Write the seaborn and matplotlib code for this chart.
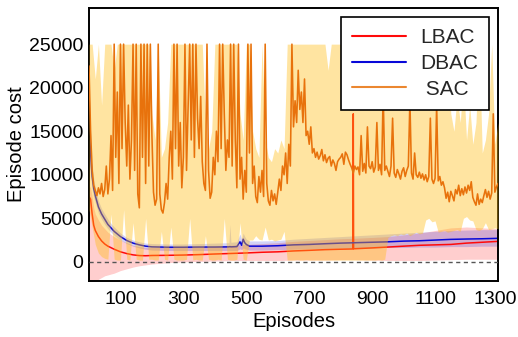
import numpy as np
import matplotlib
matplotlib.use("Agg")
import matplotlib.pyplot as plt
import matplotlib.transforms as mtransforms
import seaborn as sns

sns.set_theme(style="white")
plt.rcParams["font.family"] = ["Liberation Sans", "DejaVu Sans"]

# ---------------- data ----------------
sac_ep = np.arange(0, 1301, 5)
sac_cost = [
    22500, 15000, 10500, 8800, 8200, 7600, 8500, 7800, 9000, 7500,
    8300, 11000, 7800, 9500, 14500, 8200, 25000, 12000, 19500, 9000,
    25000, 13000, 25000, 16000, 11000, 18000, 9500, 14000, 25000, 10500,
    25000, 7800, 6200, 25000, 12000, 25000, 9000, 25000, 11000, 25000,
    14500, 8000, 6500, 7200, 25000, 7800, 6000, 5600, 6800, 9000,
    7200, 12000, 15000, 9500, 25000, 13000, 25000, 11000, 16000, 8500,
    12000, 25000, 10500, 18000, 25000, 14000, 25000, 12000, 25000, 16500,
    13000, 19000, 11500, 9000, 8200, 25000, 10500, 7300, 8000, 12000,
    10000, 15000, 11500, 25000, 13000, 25000, 17000, 10500, 14000, 12000,
    25000, 11000, 25000, 14000, 8500, 25000, 9500, 12000, 7200, 10500,
    8000, 25000, 12500, 25000, 9000, 11000, 7500, 6800, 9800, 8000,
    10500, 7500, 25000, 9000, 7000, 6500, 8200, 7000, 7800, 6600,
    8000, 9500, 8200, 11000, 10000, 12500, 9000, 13500, 11000, 25000,
    15500, 18500, 16000, 22000, 17500, 19500, 16000, 21000, 14500, 15000,
    13500, 15500, 12500, 13000, 12000, 12600, 11800, 12200, 12900, 11600,
    12300, 11400, 11900, 12100, 11000, 11700, 11300, 10500, 11500, 11800,
    12000, 12400, 11200, 12600, 12300, 11700, 11200, 10800, 10200, 11000,
    10600, 10900, 10000, 14500, 10400, 11300, 10200, 15500, 11000, 10700,
    11500, 10300, 10900, 16000, 10500, 11200, 10000, 19500, 10500, 11000,
    10400, 9800, 11000, 16500, 10200, 9700, 10600, 10100, 9500, 10400,
    10800, 9800, 10500, 11000, 18500, 10200, 9500, 12500, 10000, 9700,
    10300, 9600, 10100, 9400, 10000, 9200, 9800, 16500, 9500, 9000,
    9600, 18000, 9300, 9800, 8800, 9200, 8500, 7300, 8000, 6900,
    8100, 7600, 7000, 8300, 7800, 8800, 7600, 8400, 7700, 8600,
    7900, 8800, 8200, 9200, 7400, 6900, 6500, 7800, 6600, 7200,
    6800, 7600, 8300, 7400, 8100, 7200, 7900, 17000, 8000, 8600,
    9000,
]

band_ep = np.arange(0, 1301, 10)
sac_hi = [
    25000, 25000, 21000, 25000, 18000, 25000, 25000, 25000, 22000, 25000,
    25000, 25000, 25000, 25000, 25000, 25000, 25000, 25000, 25000, 25000,
    17000, 14000, 25000, 12000, 13000, 16000, 25000, 25000, 25000, 25000,
    25000, 25000, 25000, 25000, 25000, 25000, 25000, 16000, 13000, 15000,
    25000, 25000, 25000, 25000, 25000, 25000, 25000, 25000, 17000, 14000,
    25000, 25000, 15000, 13000, 12000, 25000, 14000, 12000, 11500, 13000,
    12500, 14000, 13000, 25000, 25000, 25000, 25000, 25000, 25000, 25000,
    25000, 25000, 25000, 25000, 25000, 25000, 22000, 25000, 25000, 25000,
    25000, 25000, 25000, 25000, 25000, 25000, 25000, 25000, 25000, 25000,
    25000, 25000, 25000, 25000, 25000, 25000, 25000, 25000, 25000, 25000,
    25000, 25000, 25000, 22000, 25000, 23000, 25000, 21000, 25000, 24000,
    25000, 25000, 20000, 22000, 25000, 17000, 15000, 19000, 16000, 21000,
    14000, 18000, 13500, 16000, 25000, 12500, 14000, 17000, 25000, 13500,
    16000,
]
sac_lo = [
    6000, 4000, 2000, 1000, 600, 400, 300, 5500, 300, 200,
    200, 6000, 300, 200, 4500, 300, 200, 200, 5000, 300,
    300, 200, 200, 3500, 300, 200, 4000, 300, 200, 200,
    200, 300, 5000, 200, 300, 200, 200, 3000, 300, 200,
    200, 300, 200, 5000, 300, 200, 200, 300, 4500, 300,
    200, 2500, 2500, 3000, 2600, 2500, 4000, 2500, 2600, 2400,
    2500, 2600, 3500, 200, 200, 200, 250, 200, 200, 250,
    200, 200, 200, 200, 200, 200, 200, 200, 200, 200,
    200, 200, 200, 200, 200, 200, 200, 200, 200, 200,
    200, 200, 250, 200, 300, 2800, 3000, 3100, 3000, 3200,
    3100, 3300, 3000, 3200, 3400, 3200, 3300, 4800, 5000, 4600,
    4700, 3400, 3500, 3600, 3400, 3500, 3600, 3700, 3500, 5000,
    5200, 4800, 4700, 3700, 3600, 3800, 4500, 3700, 3800, 3900,
    3800,
]

lbac_ep = [0, 5, 10, 15, 20, 30, 40, 50, 60, 80,
           100, 120, 140, 160, 180, 200, 250, 300, 350, 400,
           450, 500, 550, 600, 650, 700, 750, 800, 839, 840,
           841, 900, 950, 1000, 1050, 1100, 1150, 1200, 1250, 1300]
lbac_cost = [7500, 7200, 5500, 4200, 3600, 2900, 2400, 2050, 1800, 1450,
             1150, 950, 800, 720, 700, 730, 750, 780, 830, 900,
             960, 1020, 1100, 1150, 1250, 1320, 1400, 1450, 1480, 17000,
             1500, 1600, 1700, 1800, 1900, 1950, 2000, 2150, 2250, 2350]
lbac_lo = [-4000, -4000, -4000, -3500, -2500, -2000, -1800, -1600, -1500, -1300,
           -1000, -800, -600, -450, -350, -250, -100, 0, 50, 100,
           150, 150, 150, 150, 200, 200, 200, 250, 250, 250,
           250, 200, 150, 150, 150, 200, 250, 300, 300, 300]
lbac_hi = [8800, 8500, 7500, 6200, 5500, 4800, 4200, 3800, 3400, 2900,
           2500, 2200, 1900, 1750, 1650, 1650, 1650, 1700, 1750, 1800,
           1900, 2000, 2100, 2200, 2350, 2450, 2550, 2650, 2700, 2700,
           2700, 2800, 2900, 3100, 3300, 3600, 3900, 4000, 3900, 3800]

dbac_ep = [0, 2, 5, 10, 15, 20, 30, 40, 50, 60,
           70, 80, 90, 100, 120, 140, 160, 180, 200, 250,
           300, 350, 400, 445, 448, 451, 470, 480, 485, 490,
           495, 500, 510, 550, 600, 650, 700, 750, 800, 850,
           900, 950, 1000, 1050, 1100, 1150, 1200, 1250, 1300]
dbac_cost = [21000, 14500, 12500, 9800, 8400, 7600, 6300, 5500, 4900, 4300,
             3900, 3500, 3200, 2900, 2450, 2150, 1950, 1800, 1720, 1680,
             1680, 1700, 1700, 1720, 1750, 1720, 1750, 2300, 1900, 2600,
             2200, 2000, 1800, 1800, 1850, 1950, 2000, 2080, 2150, 2200,
             2250, 2300, 2380, 2420, 2500, 2580, 2620, 2650, 2700]
dbac_lo = [14000, 11000, 10000, 8500, 7400, 6800, 5600, 4900, 4300, 3800,
           3400, 3050, 2750, 2500, 2100, 1800, 1600, 1450, 1350, 1300,
           1300, 1300, 1300, 1300, 1300, 1300, 1300, 1500, 1400, 1600,
           1500, 1450, 1350, 1350, 1400, 1450, 1500, 1550, 1600, 1600,
           1600, 1650, 1650, 1700, 1700, 1750, 1750, 1800, 1800]
dbac_hi = [23000, 18000, 15000, 11200, 9500, 8500, 7000, 6100, 5500, 4900,
           4400, 4000, 3650, 3300, 2800, 2500, 2300, 2150, 2100, 2050,
           2050, 2100, 2150, 2200, 4300, 2250, 2300, 3200, 2600, 3300,
           2900, 2600, 2400, 2400, 2450, 2600, 2700, 2800, 2900, 3000,
           3100, 3200, 3300, 3400, 3500, 3600, 3650, 3700, 3700]

x_ticks = list(range(100, 1301, 100))
x_labels = [str(t) if (t // 100) % 2 == 1 else "" for t in x_ticks]
y_ticks = [0, 5000, 10000, 15000, 20000, 25000]

# ---------------- colours ----------------
c_lbac = "#FF0A0A"
c_dbac = "#0808D8"
c_sac = "#E8720C"
c_sac_band = "#FFBC14"

# ---------------- figure ----------------
fig = plt.figure(figsize=(5.18, 3.37), dpi=100)
ax = fig.add_axes([89 / 518, 1 - 281 / 337, (498 - 89) / 518, (281 - 8) / 337])

ax.fill_between(lbac_ep, lbac_lo, lbac_hi, color=c_lbac, alpha=0.2, lw=0, zorder=1)
sns.lineplot(x=lbac_ep, y=lbac_cost, ax=ax, color=c_lbac, lw=1.1,
             estimator=None, errorbar=None, label="LBAC", zorder=2)
ax.fill_between(dbac_ep, dbac_lo, dbac_hi, color=c_dbac, alpha=0.18, lw=0, zorder=1.5)
sns.lineplot(x=dbac_ep, y=dbac_cost, ax=ax, color=c_dbac, lw=1.1,
             estimator=None, errorbar=None, label="DBAC", zorder=2.5)
ax.fill_between(band_ep, sac_lo, sac_hi, color=c_sac_band, alpha=0.4, lw=0, zorder=3)
sns.lineplot(x=sac_ep, y=sac_cost, ax=ax, color=c_sac, lw=1.15,
             estimator=None, errorbar=None, label=" SAC", zorder=4)

ax.axhline(0, color="#555555", lw=1.0, ls=(0, (3, 2.5)), zorder=5)

ax.set_xlim(0, 1300)
ax.set_ylim(-2200, 29150)
ax.set_xticks(x_ticks)
ax.set_xticklabels(x_labels)
ax.set_yticks(y_ticks)
ax.tick_params(axis="x", direction="in", length=4, width=1, color="black",
               labelsize=14, pad=7, labelcolor="black")
ax.tick_params(axis="y", direction="in", length=0, labelsize=14, pad=4,
               labelcolor="black")
ax.set_xlabel("Episodes", fontsize=14.5, color="black", labelpad=3)
ax.set_ylabel("Episode cost", fontsize=14.5, color="black", labelpad=2)

# keep the last tick label inside the canvas
last = ax.get_xticklabels()[-1]
last.set_transform(last.get_transform() +
                   mtransforms.ScaledTranslation(-3 / 100, 0, fig.dpi_scale_trans))

for s in ax.spines.values():
    s.set_color("black")
    s.set_linewidth(1.4)
ax.grid(False)

leg = ax.legend(loc="upper right", fontsize=15, frameon=True, fancybox=False,
                edgecolor="black", framealpha=1, handlelength=2.6,
                handletextpad=0.65, borderpad=0.55, labelspacing=0.32,
                borderaxespad=0.42)
leg.get_frame().set_linewidth(1.2)
leg.set_zorder(10)
for line in leg.get_lines():
    line.set_linewidth(1.5)
leg.get_lines()[2].set_alpha(0.85)

fig.savefig("out.png", dpi=100)
